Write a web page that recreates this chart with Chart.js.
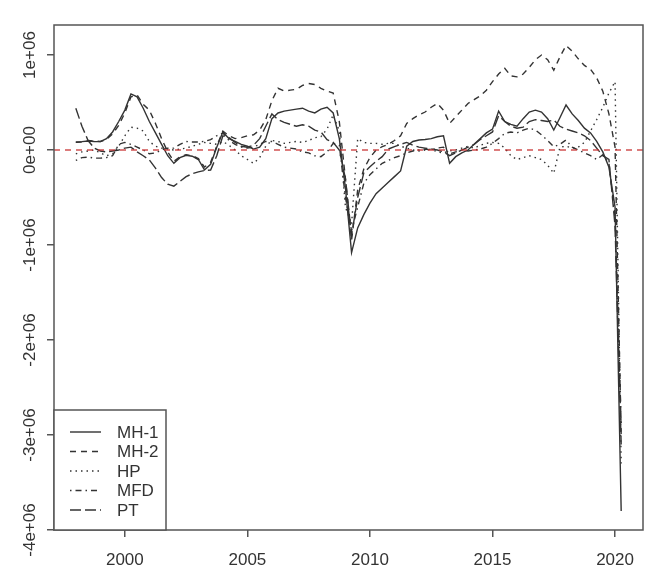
<!DOCTYPE html>
<html>
<head>
<meta charset="utf-8">
<script src="https://cdn.jsdelivr.net/npm/chart.js@4/dist/chart.umd.min.js"></script>
<style>
  html, body { margin: 0; padding: 0; background: #fff; }
  #chart { display: block; }
</style>
</head>
<body>
<canvas id="chart" width="666" height="587"></canvas>
<script>
// ── 데이터 (분기별, 1998 Q1 ~ 2020 Q2, 단위: 천) ────────────────────────────
const QUARTERS = [];
for (let q = 0; q < 90; q++) QUARTERS.push(1998 + q / 4);

const SERIES_NAMES = ['MH-1', 'MH-2', 'HP', 'MFD', 'PT'];

const MH1 = [
  85, 88, 95, 90,   88, 120, 190, 300,   420, 590, 560, 440,   300, 180, 60, -60,
  -140, -80, -55, -65,   -100, -210, -150, 30,   190, 120, 90, 60,   40, 10, 30, 120,
  330, 390, 410, 420,   430, 440, 410, 390,   430, 450, 390, 120,   -400, -1080, -820, -680,
  -560, -460, -400, -340,   -280, -220, 40, 90,   105, 110, 120, 140,   150, -140, -70, -30,
  0, 60, 120, 180,   220, 410, 300, 270,   250, 330, 400, 420,   400, 330, 210, 340,
  474, 380, 310, 230,   180, 90, -20, -180,   -600, -3800,
];
const MH2 = [
  80, 85, 100, 95,   90, 110, 170, 260,   390, 560, 580, 480,   420, 280, 120, -20,
  -120, -70, -50, -60,   -90, -180, -130, 40,   200, 150, 120, 130,   150, 160, 210, 320,
  520, 650, 620, 630,   640, 680, 700, 690,   650, 620, 600, 300,   -300, -950, -420, -200,
  -80, 0, 35, 60,   100, 150, 280, 330,   370, 400, 450, 490,   420, 280, 350, 420,
  490, 530, 570, 630,   720, 800, 860, 780,   770, 800, 870, 950,   1000, 950, 840, 980,
  1100, 1040, 960, 890,   850, 760, 620, 380,   30, -3000,
];
const HP = [
  -40, -20, -10, 0,   -30, -60, -40, 40,   150, 240, 230, 200,   90, 40, 20, 10,
  0, 10, 20, 40,   60, 80, 70, 60,   90, 50, 0, -60,   -100, -140, -80, 40,
  100, 90, 70, 80,   90, 80, 100, 130,   140, 220, 370, 200,   -600, -780, 120, 80,
  70, 70, 60, 70,   70, 40, 20, 0,   -10, 0, 10, -20,   -30, -10, 0, 20,
  40, 20, 50, 70,   80, 70, 20, -60,   -100, -80, -60, -80,   -100, -160, -245, 30,
  40, 20, 30, 80,   200, 320, 450, 600,   720, -3300,
];
const MFD = [
  -110, -80, -75, -85,   -85, -80, -60, 60,   80, 60, 30, 0,   -40, -30, 0, 20,
  20, 60, 90, 85,   85, 90, 110, 150,   180, 100, 60, 30,   20, 30, 60, 90,
  90, 60, 30, 20,   10, -20, -30, -60,   -70, -20, 70, 50,   -500, -850, -600, -350,
  -260, -200, -140, -110,   -80, -60, -30, -10,   0, 10, 0, 20,   30, -40, -20, 0,
  -10, 0, 10, 30,   70, 120, 175, 190,   180, 210, 230, 210,   160, 100, 35, 60,
  105, 30, 0, -30,   -60, -100, -50, -140,   -700, -2900,
];
const PT = [
  440, 250, 100, 20,   -10, -20, -10, 0,   20, 30, -20, -60,   -105, -190, -290, -360,
  -380, -330, -280, -250,   -230, -215, -210, -60,   150, 130, 80, 40,   30, 50, 120, 250,
  380, 320, 290, 270,   250, 265, 250, 210,   190, 110, 80, 0,   -300, -900, -500, -240,
  -175, -120, -70, 10,   35, 60, 80, 50,   30, 20, 10, 0,   -20, -60, -30, 0,
  30, 60, 110, 150,   190, 360, 300, 250,   230, 240, 300, 320,   310, 300, 316, 250,
  220, 200, 180, 150,   100, 20, -60, -100,   -800, -3100,
];
const UNIT = 1000;

// 축 눈금
const X_TICKS = [2000, 2005, 2010, 2015, 2020];
const Y_TICKS = [1e6, 0, -1e6, -2e6, -3e6, -4e6];
const Y_TICK_LABELS = ['1e+06', '0e+00', '-1e+06', '-2e+06', '-3e+06', '-4e+06'];

// R 기본 축 범위 (데이터 범위 + 4%)
const X_MIN = 1997.11, X_MAX = 2021.14;
const Y_MIN = -4.0e6, Y_MAX = 1.316e6;

// ── 스타일 ───────────────────────────────────────────────────────────────────
const FONT = "'Liberation Sans', Arial, sans-serif";
const INK = '#333333';
const LINE = '#333333';
// R lty 1..5 (solid, dashed, dotted, dotdash, longdash)
const DASHES = [[], [6, 5], [1.5, 4], [1.5, 4, 6, 4], [11, 4]];

function toPoints(values) {
  return values.map((v, i) => ({ x: QUARTERS[i], y: v * UNIT }));
}

// 플롯 박스, 0 기준선, y 라벨, 범례
const rPlotPlugin = {
  id: 'rPlot',
  afterDatasetsDraw(chart) {
    const { ctx, chartArea: a, scales } = chart;
    const y0 = scales.y.getPixelForValue(0);
    ctx.save();
    ctx.strokeStyle = 'rgba(200,50,50,0.85)';
    ctx.lineWidth = 1.3;
    ctx.setLineDash([6, 5]);
    ctx.beginPath();
    ctx.moveTo(a.left, y0);
    ctx.lineTo(a.right, y0);
    ctx.stroke();
    ctx.restore();
  },
  afterDraw(chart) {
    const { ctx, chartArea: a, scales } = chart;
    ctx.save();
    ctx.strokeStyle = '#555';
    ctx.lineWidth = 1.5;
    ctx.strokeRect(a.left, a.top, a.right - a.left, a.bottom - a.top);

    // 세로 방향 y 라벨
    ctx.fillStyle = INK;
    ctx.font = `17px ${FONT}`;
    ctx.textAlign = 'center';
    ctx.textBaseline = 'middle';
    Y_TICKS.forEach((v, i) => {
      const py = scales.y.getPixelForValue(v);
      ctx.save();
      ctx.translate(30, py);
      ctx.rotate(-Math.PI / 2);
      ctx.fillText(Y_TICK_LABELS[i], 0, 0);
      ctx.restore();
    });

    // 범례 (좌하단)
    const box = { left: a.left, top: 410, right: 166, bottom: a.bottom };
    ctx.fillStyle = '#fff';
    ctx.fillRect(box.left, box.top, box.right - box.left, box.bottom - box.top);
    ctx.strokeStyle = '#555';
    ctx.strokeRect(box.left, box.top, box.right - box.left, box.bottom - box.top);
    ctx.textAlign = 'left';
    SERIES_NAMES.forEach((name, i) => {
      const cy = 432 + i * 19.5;
      ctx.strokeStyle = LINE;
      ctx.lineWidth = 1.4;
      ctx.setLineDash(DASHES[i]);
      ctx.beginPath();
      ctx.moveTo(70, cy);
      ctx.lineTo(101, cy);
      ctx.stroke();
      ctx.setLineDash([]);
      ctx.fillStyle = INK;
      ctx.fillText(name, 117, cy + 1);
    });
    ctx.restore();
  },
};

function createRChart(canvasId) {
  const canvas = document.getElementById(canvasId);
  const allSeries = [MH1, MH2, HP, MFD, PT];

  return new Chart(canvas, {
    type: 'line',
    data: {
      datasets: allSeries.map((vals, i) => ({
        label: SERIES_NAMES[i],
        data: toPoints(vals),
        borderColor: LINE,
        borderWidth: 1.4,
        borderDash: DASHES[i],
        pointRadius: 0,
        tension: 0,
        fill: false,
      })),
    },
    options: {
      responsive: false,
      animation: false,
      devicePixelRatio: 1,
      layout: { padding: { left: 0, top: 25, right: 23, bottom: 0 } },
      plugins: { legend: { display: false }, tooltip: { enabled: false } },
      scales: {
        x: {
          type: 'linear',
          min: X_MIN,
          max: X_MAX,
          afterBuildTicks: (s) => { s.ticks = X_TICKS.map(v => ({ value: v })); },
          afterFit: (s) => { s.height = 57; },
          border: { display: false },
          grid: { drawOnChartArea: false, drawTicks: true, tickLength: 7, color: '#555', lineWidth: 1.5 },
          ticks: {
            font: { family: FONT, size: 17 },
            color: INK,
            padding: 13,
            maxRotation: 0,
            callback: (v) => String(v),
          },
        },
        y: {
          type: 'linear',
          min: Y_MIN,
          max: Y_MAX,
          afterBuildTicks: (s) => { s.ticks = Y_TICKS.map(v => ({ value: v })); },
          afterFit: (s) => { s.width = 54; },
          border: { display: false },
          grid: { drawOnChartArea: false, drawTicks: true, tickLength: 7, color: '#555', lineWidth: 1.5 },
          ticks: { display: false },
        },
      },
    },
    plugins: [rPlotPlugin],
  });
}

createRChart('chart');
</script>
</body>
</html>
